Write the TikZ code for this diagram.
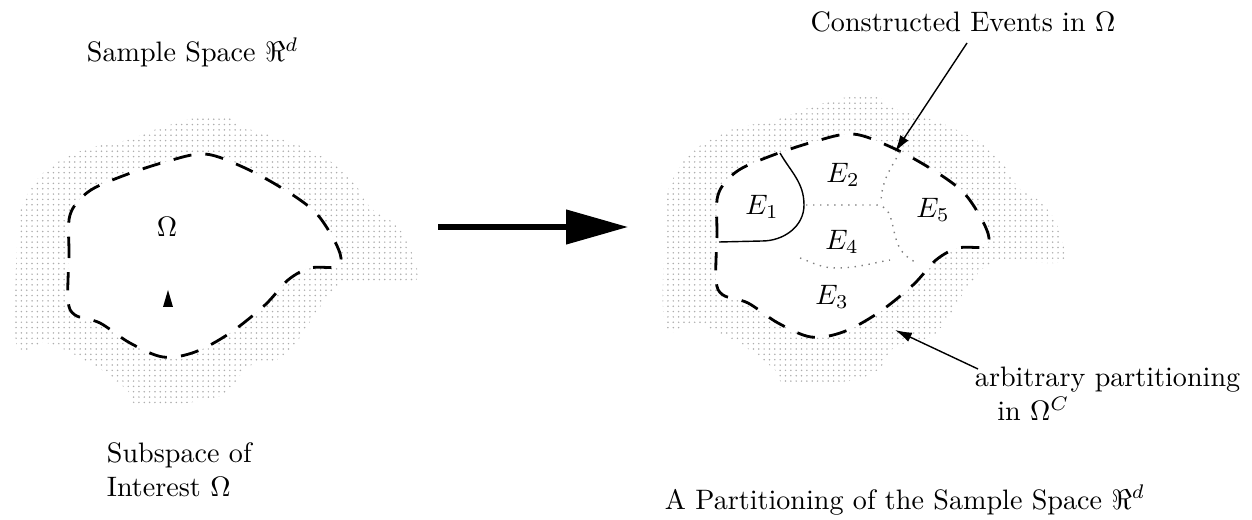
\documentclass[tikz,border=0pt]{standalone}
\usetikzlibrary{arrows.meta,patterns}

% 点状阴影
\pgfdeclarepatternformonly{stipple}{\pgfqpoint{-0.3pt}{-0.3pt}}{\pgfqpoint{0.3pt}{0.3pt}}{\pgfqpoint{1.9pt}{1.9pt}}{\pgfpathcircle{\pgfpointorigin}{0.3pt}\pgfusepath{fill}}

% 阴影云和区域边界
\newcommand{\cloudshape}{plot[smooth cycle, tension=0.6] coordinates {(20,210) (43,173) (83,150) (127,140) (160,128) (200,117) (230,117) (243,127) (293,143) (333,163) (353,180) (370,207) (390,220) (405,237) (413,257) (413,282) (347,282) (320,307) (303,333) (283,357) (247,367) (233,387) (207,400) (140,405) (127,390) (97,367) (47,343) (17,347) (17,243)}}
\newcommand{\regionshape}{plot[smooth cycle, tension=0.55] coordinates {(68,300) (69,255) (70,215) (88,192) (120,177) (165,162) (205,154) (245,168) (285,190) (315,212) (333,238) (341,258) (335,267) (310,268) (288,280) (265,305) (230,333) (195,352) (163,357) (130,343) (100,323) (75,315)}}

\begin{document}
\begin{tikzpicture}[x=0.0125cm, y=-0.0125cm,
    stippled/.style={pattern=stipple, pattern color=black!32},
    regionline/.style={dash pattern=on 6.5pt off 5pt, line width=1pt},
    faint/.style={dotted, gray, line width=0.5pt},
    pointer/.style={-{Latex[length=6pt,width=3.5pt]}, line width=0.5pt},
    bigarrow/.style={-{Triangle[length=22pt,width=12pt]}, line width=1.8pt}]
    \useasboundingbox (0,0) rectangle (1252,520);

    % 左图：样本空间
    \fill[stippled] \cloudshape;
    \fill[white] \regionshape;
    \draw[regionline] \regionshape;
    \node[anchor=west] (samplespace) at (77,52) {Sample Space $\Re^d$};
    \node (omega) at (167,227) {$\Omega$};
    \fill (163,307) -- (168,290) -- (173,307) -- cycle;
    \node[anchor=west, align=left] (subspace) at (97,470) {Subspace of\\Interest $\Omega$};

    % 大箭头
    \coordinate (bigtail) at (438,227);
    \coordinate (bighead) at (628,227);
    \draw[bigarrow] (bigtail) -- (bighead);

    % 右图：划分
    \begin{scope}[shift={(648,-20)}]
        \fill[stippled] \cloudshape;
        \fill[white] \regionshape;
        \draw[regionline] \regionshape;
    \end{scope}
    \draw[line width=0.5pt] (780,153) to[out=-60,in=90] (804,205) to[out=-90,in=0] (762,241) -- (719,242);
    \draw[faint] (900,152) to[out=240,in=90] (881,204);
    \draw[faint] (806,205) -- (876,205) to[out=0,in=110] (897,242) to[out=-70,in=150] (915,262);
    \draw[faint] (800,258) to[out=-20,in=180] (836,268) to[out=0,in=190] (890,260);
    \node (e1) at (762,207) {$E_1$};
    \node (e2) at (843,175) {$E_2$};
    \node (e4) at (842,242) {$E_4$};
    \node (e3) at (832,297) {$E_3$};
    \node (e5) at (933,210) {$E_5$};

    % 标注
    \node (constructed) at (963,22) {Constructed Events in $\Omega$};
    \coordinate (ctail) at (967,43);
    \coordinate (ctip) at (895,152);
    \draw[pointer] (ctail) -- (ctip);
    \node[anchor=west, align=left] (arbitrary) at (965,394) {arbitrary partitioning\\\hspace*{2.8mm}in $\Omega^C$};
    \coordinate (atail) at (978,369);
    \coordinate (atip) at (895,330);
    \draw[pointer] (atail) -- (atip);
    \node[anchor=west] (partition) at (655,500) {A Partitioning of the Sample Space $\Re^d$};
\end{tikzpicture}
\end{document}
